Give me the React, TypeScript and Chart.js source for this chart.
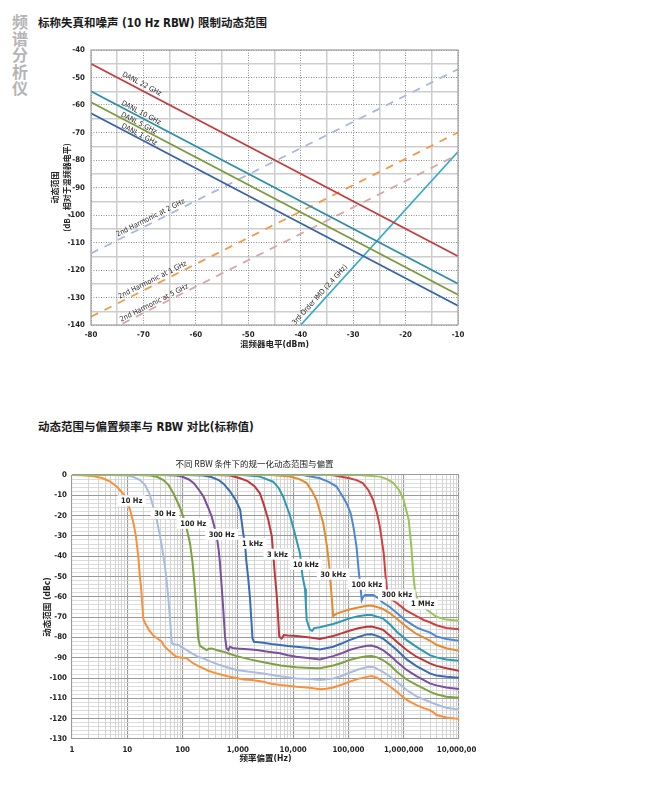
import React, { useEffect, useRef } from "react";
import { Chart, registerables } from "chart.js";

Chart.register(...registerables);

const NARROW =
  "'Liberation Sans Narrow', 'DejaVu Sans Condensed', 'Roboto Condensed', 'Liberation Sans', 'Noto Sans CJK SC', sans-serif";
const CJK = "'Noto Sans CJK SC', 'Noto Sans', sans-serif";

// ---------------- Chart 1: distortion / noise limited dynamic range ----------------
const mixerLevelTickValues = [-80, -70, -60, -50, -40, -30, -20, -10];
const dynamicRangeTickValues = [-40, -50, -60, -70, -80, -90, -100, -110, -120, -130, -140];

const danlMixerLevels = [-80, -10];
const danl22GHz = [-45, -115];
const danl10GHz = [-55, -125];
const danl5GHz = [-59, -129];
const danl1GHz = [-63, -133];
const harmonic2GHzLevels = [-80, -10];
const harmonic2GHz = [-114, -47];
const harmonic1GHzLevels = [-80, -10];
const harmonic1GHz = [-137, -70];
const harmonic5GHzLevels = [-74, -10];
const harmonic5GHz = [-139.5, -78];
const imd3Levels = [-40, -10];
const imd3 = [-140, -77];

// ---------------- Chart 2: dynamic range vs offset vs RBW ----------------
const offsetTickValues = [1, 10, 100, 1000, 10000, 100000, 1000000, 10000000];
const offsetTickLabels = ["1", "10", "100", "1,000", "10,000", "100,000", "1,000,000", "10,000,000"];
const dbcTickValues = [0, -10, -20, -30, -40, -50, -60, -70, -80, -90, -100, -110, -120, -130];

const rbwNames = ["10 Hz", "30 Hz", "100 Hz", "300 Hz", "1 kHz", "3 kHz", "10 kHz", "30 kHz", "100 kHz", "300 kHz", "1 MHz"];

const rbw10Hz: [number, number][] = [
  [1, 0], [1.5, -0.1], [2.5, -0.6], [3.5, -1.5], [4.9, -3.3], [6.5, -5.8], [8.8, -9.9], [11.2, -17], [13, -24],
  [14.3, -30], [15.8, -40], [16.9, -50], [17.7, -55], [18.6, -63], [19.5, -71], [21, -73], [25, -76.5], [29.5, -79],
  [35, -80.5], [41.7, -82], [46, -84], [51.5, -85.4], [60, -87], [70, -88.6], [78, -89.5], [95, -90], [119, -90.3],
  [135, -91.5], [157, -92.8], [190, -94], [238, -95.2], [300, -96.5], [414, -97.7], [550, -98.6], [722, -99.4],
  [900, -99.8], [1270, -100.7], [1800, -101], [2900, -101.8], [4000, -102.8], [5800, -103.4], [8000, -103.8],
  [11500, -104.3], [20000, -104.8], [30500, -105.5], [40000, -105.3], [53000, -104.6], [75000, -103.3],
  [104000, -101.8], [150000, -100.4], [214000, -99.4], [263000, -99], [330000, -99.8], [420000, -101.8],
  [560000, -104], [750000, -106.7], [1130000, -110.8], [1700000, -113.3], [2300000, -114.8], [2970000, -115.8],
  [3500000, -117], [3900000, -118.2], [5900000, -119.4], [8500000, -119.9], [10000000, -120],
];
const rbw30Hz: [number, number][] = [
  [1, 0], [5, 0], [9.8, -0.3], [13, -1], [17, -2.5], [21, -5], [25, -9], [29.5, -15.6], [34, -22], [39, -30],
  [44, -38], [48, -45], [51.5, -52], [55, -60], [59, -70], [63, -81.3], [65, -83], [70, -83.3], [84, -83.7],
  [100, -85], [119, -86.2], [150, -88], [190, -89.5], [238, -90.3], [330, -92], [475, -93.6], [700, -95],
  [950, -96], [1500, -96.8], [2900, -97.7], [5000, -98.8], [11500, -100.2], [20000, -100.5], [30500, -101],
  [53000, -100.2], [75000, -99], [104000, -97.4], [150000, -95.8], [230000, -94.4], [290000, -94.6],
  [420000, -96.9], [560000, -99.2], [750000, -101.8], [1130000, -105.9], [1700000, -109], [2300000, -110.5],
  [3000000, -111.8], [3900000, -113], [5900000, -114.6], [8500000, -115.2], [10000000, -115.4],
];
const rbw100Hz: [number, number][] = [
  [1, 0], [15, 0], [26, -0.3], [35, -1], [45, -2.5], [56, -5], [68, -9], [85, -14.5], [103, -20.5], [120, -27],
  [136, -33.6], [150, -42], [160, -50], [167, -56], [180, -68], [192, -80.5], [205, -84], [220, -84.6],
  [273, -86.2], [300, -85.6], [337, -85.4], [420, -86.3], [545, -87], [700, -88], [950, -89.2], [1650, -90.8],
  [2500, -91.8], [3800, -92.8], [6000, -93.8], [11500, -94.7], [20000, -95], [30500, -95.2], [53000, -93.8],
  [75000, -92.6], [104000, -91.1], [150000, -90], [214000, -89.2], [263000, -89.1], [330000, -89.8],
  [420000, -91.1], [560000, -93.5], [750000, -96.9], [1130000, -100.7], [1700000, -103.4], [2970000, -106.7],
  [3900000, -108], [5900000, -109.2], [10000000, -109.7],
];
const rbw300Hz: [number, number][] = [
  [1, 0], [40, 0], [78, -0.3], [100, -0.9], [130, -2.2], [160, -4], [200, -7.5], [238, -10.5], [290, -16],
  [337, -20.5], [380, -26], [414, -30], [450, -37], [475, -43.5], [510, -55], [550, -68], [585, -79.6],
  [625, -85.4], [670, -86.2], [720, -84.6], [800, -85.2], [950, -85.4], [1500, -85.8], [2200, -86.2],
  [3500, -87], [5800, -87.8], [8000, -88.8], [11500, -89.5], [20000, -90.2], [30500, -90.8], [53000, -89.2],
  [75000, -87.8], [104000, -86.2], [150000, -85], [214000, -84.1], [263000, -84], [330000, -84.8],
  [420000, -86.2], [560000, -88.8], [750000, -92], [1130000, -96], [1700000, -99], [2970000, -102.6],
  [3900000, -103.6], [5900000, -104.6], [10000000, -105.4],
];
const rbw1kHz: [number, number][] = [
  [1, 0], [120, 0], [235, -0.3], [330, -1], [450, -2.5], [560, -4.5], [720, -8], [900, -12], [1100, -17],
  [1250, -28.7], [1350, -34], [1420, -42], [1530, -50], [1650, -60], [1760, -72], [1840, -80.5], [1950, -82.1],
  [2900, -82.6], [4000, -83.2], [5800, -83.7], [8000, -84.2], [11500, -84.6], [20000, -85.2], [30500, -85.9],
  [53000, -84.6], [75000, -83], [104000, -81.3], [150000, -79.8], [214000, -78.5], [263000, -78.4],
  [330000, -79.2], [420000, -80.5], [560000, -83.2], [750000, -86.2], [1130000, -90.8], [1700000, -94.1],
  [2970000, -97.7], [3900000, -98.7], [5900000, -99.4], [10000000, -99.8],
];
const rbw3kHz: [number, number][] = [
  [1, 0], [400, 0], [720, -0.3], [1100, -1.6], [1500, -3], [2000, -5.5], [2500, -9], [2900, -14], [3550, -22],
  [4100, -30], [4350, -38.6], [4700, -50], [5000, -58], [5300, -68], [5600, -79.6], [6200, -80.5],
  [6800, -78.8], [8000, -79], [11500, -79.3], [20000, -80], [30500, -80.8], [53000, -79.3], [75000, -78],
  [104000, -76.7], [150000, -75.5], [214000, -74.7], [263000, -74.6], [330000, -75.3], [420000, -76.2],
  [560000, -79], [750000, -82.1], [1130000, -86.2], [1700000, -89.5], [2970000, -92.8], [3900000, -94],
  [5900000, -95.2], [10000000, -96.4],
];
const rbw10kHz: [number, number][] = [
  [1, 0], [1200, 0], [2500, -0.8], [4350, -3.3], [5500, -6.5], [6600, -10.7], [8700, -19.7], [10700, -28.7],
  [13300, -38.6], [14800, -50], [16400, -56], [17000, -64], [17600, -71.4], [20000, -76], [22000, -76.8],
  [24000, -75.4], [30500, -75], [53000, -73.4], [75000, -72], [104000, -70.6], [150000, -69.6], [214000, -69],
  [263000, -69], [330000, -69.8], [420000, -70.6], [560000, -73.5], [750000, -77.2], [1130000, -81.3],
  [1700000, -84.6], [2970000, -88.7], [3900000, -89.8], [5900000, -90.8], [10000000, -91.5],
];
const rbw30kHz: [number, number][] = [
  [1, 0], [4000, 0], [8700, -0.7], [13000, -2], [17600, -4], [22000, -8], [26500, -12.3], [30500, -18],
  [35000, -23.8], [41000, -35.3], [45000, -45], [48000, -55], [50500, -62], [53000, -69.5], [60000, -68.4],
  [75000, -67.4], [104000, -66.2], [150000, -65.2], [214000, -64.4], [263000, -64.3], [330000, -65],
  [420000, -66], [560000, -68], [750000, -70.8], [1130000, -74.8], [1700000, -78.3], [2970000, -81.5],
  [3900000, -83.6], [5900000, -85.3], [10000000, -86.5],
];
const rbw100kHz: [number, number][] = [
  [1, 0], [15000, 0], [30500, -1.6], [45000, -3.5], [61000, -5.7], [80000, -11], [93000, -14], [110000, -19],
  [123000, -25.4], [140000, -35.3], [155000, -48.4], [165000, -55], [174000, -61.6], [185000, -60],
  [200000, -59.1], [280000, -59.1], [340000, -60.5], [420000, -62.8], [560000, -65], [750000, -68],
  [1130000, -72], [1700000, -75], [2300000, -76.5], [2970000, -77.5], [3900000, -79.5], [5900000, -80.8],
  [10000000, -81.6],
];
const rbw300kHz: [number, number][] = [
  [1, 0], [50000, 0], [104000, -1.6], [140000, -2.5], [182000, -4], [230000, -7.5], [280000, -12.3],
  [330000, -19], [370000, -25.4], [435000, -38.6], [470000, -50], [500000, -57], [530000, -60.5],
  [560000, -60.8], [750000, -63], [1080000, -66.5], [1700000, -69.5], [2300000, -71.4], [2970000, -72.5],
  [3900000, -74], [5900000, -75.3], [10000000, -76],
];
const rbw1MHz: [number, number][] = [
  [1, 0], [150000, 0], [370000, -0.8], [500000, -2], [650000, -4], [830000, -7.5], [1000000, -12.3],
  [1230000, -22], [1370000, -35], [1500000, -50], [1600000, -56.7], [1700000, -60], [2000000, -63.5],
  [2500000, -66], [3200000, -68.1], [3900000, -69.8], [5900000, -71.2], [10000000, -71.8],
];

const rbwSeries = [rbw10Hz, rbw30Hz, rbw100Hz, rbw300Hz, rbw1kHz, rbw3kHz, rbw10kHz, rbw30kHz, rbw100kHz, rbw300kHz, rbw1MHz];
const rbwColors = ["#F7923A", "#A8BCE0", "#7DA23E", "#7A4F9E", "#396CB3", "#BE383B", "#2E99B2", "#E68A2E", "#4C88D2", "#D0413F", "#9BC457"];
// label anchor (offset Hz, dBc) for each RBW tag
const rbwLabelOffsets = [12, 48, 156, 510, 1840, 5200, 17000, 53000, 215000, 750000, 2200000];
const rbwLabelLevels = [-12.7, -18.9, -23.8, -29.2, -33.6, -39, -44, -48.9, -53.8, -59.1, -63.5];

const pts = (xs: number[], ys: number[]) => xs.map((x, i) => ({ x, y: ys[i] }));

const chart1Series = [
  { label: "DANL 22 GHz", data: pts(danlMixerLevels, danl22GHz), color: "#C1403F", dash: [] as number[], off: 5.5 },
  { label: "DANL 10 GHz", data: pts(danlMixerLevels, danl10GHz), color: "#2E8FA7", dash: [] as number[], off: 4 },
  { label: "DANL 5 GHz", data: pts(danlMixerLevels, danl5GHz), color: "#7B9B3B", dash: [] as number[], off: 3.5 },
  { label: "DANL 1 GHz", data: pts(danlMixerLevels, danl1GHz), color: "#3963A8", dash: [] as number[], off: 3.5 },
  { label: "2nd Harmonic at 2 GHz", data: pts(harmonic2GHzLevels, harmonic2GHz), color: "#A9B9DC", dash: [8, 7], off: 5 },
  { label: "2nd Harmonic at 1 GHz", data: pts(harmonic1GHzLevels, harmonic1GHz), color: "#F39A49", dash: [8, 7], off: 5 },
  { label: "2nd Harmonic at 5 GHz", data: pts(harmonic5GHzLevels, harmonic5GHz), color: "#DBA6A6", dash: [8, 7], off: 4 },
  { label: "3rd Order IMD (2.4 GHz)", data: pts(imd3Levels, imd3), color: "#3AACC8", dash: [] as number[], off: 6 },
];
const chart1LabelAt = [-70.8, -70.8, -71.2, -71.1, -68.2, -67.8, -67.6, -35.5];

const isMult = (c: any, m: number) => c && c.tick && Math.abs(c.tick.value % m) < 1e-6;

const lineLabelPlugin = {
  id: "lineLabels",
  afterDatasetsDraw(chart: any) {
    const { ctx } = chart;
    const xs = chart.scales.x;
    const ys = chart.scales.y;
    ctx.save();
    ctx.font = `7.2px ${NARROW}`;
    ctx.fillStyle = "#2a2a2a";
    ctx.textAlign = "center";
    ctx.textBaseline = "middle";
    chart1Series.forEach((s, i) => {
      const p0 = s.data[0];
      const p1 = s.data[s.data.length - 1];
      const xv = chart1LabelAt[i];
      const yv = p0.y + ((p1.y - p0.y) * (xv - p0.x)) / (p1.x - p0.x);
      const px = xs.getPixelForValue(xv);
      const py = ys.getPixelForValue(yv);
      const ang = Math.atan2(
        ys.getPixelForValue(p1.y) - ys.getPixelForValue(p0.y),
        xs.getPixelForValue(p1.x) - xs.getPixelForValue(p0.x)
      );
      ctx.save();
      ctx.translate(px + Math.sin(ang) * s.off, py - Math.cos(ang) * s.off);
      ctx.rotate(ang);
      ctx.fillText(s.label, 0, 0);
      ctx.restore();
    });
    ctx.restore();
  },
};

const frame1Plugin = {
  id: "frame1",
  afterDraw(chart: any) {
    const { ctx, chartArea: a } = chart;
    ctx.save();
    ctx.strokeStyle = "#9e9e9e";
    ctx.lineWidth = 1.2;
    ctx.strokeRect(a.left, a.top, a.right - a.left, a.bottom - a.top);
    ctx.restore();
  },
};

const rbwLabelPlugin = {
  id: "rbwLabels",
  afterDatasetsDraw(chart: any) {
    const { ctx, chartArea: a } = chart;
    const xs = chart.scales.x;
    const ys = chart.scales.y;
    ctx.save();
    ctx.font = `bold 7.5px ${NARROW}`;
    ctx.textAlign = "center";
    ctx.textBaseline = "middle";
    rbwNames.forEach((name, i) => {
      const px = xs.getPixelForValue(rbwLabelOffsets[i]);
      const py = ys.getPixelForValue(rbwLabelLevels[i]);
      const w = ctx.measureText(name).width + 7;
      ctx.fillStyle = "#ffffff";
      ctx.fillRect(px - w / 2, py - 5.5, w, 11);
      ctx.fillStyle = "#1e1e1e";
      ctx.fillText(name, px, py + 0.5);
    });
    ctx.font = `8.5px ${CJK}`;
    ctx.fillStyle = "#222";
    ctx.fillText("不同 RBW 条件下的规一化动态范围与偏置", (a.left + a.right) / 2 - 11, a.top - 11);
    ctx.restore();
  },
};

export default function App() {
  const c1 = useRef<HTMLCanvasElement>(null);
  const c2 = useRef<HTMLCanvasElement>(null);

  useEffect(() => {
    const tickFont = { family: NARROW, size: 7.8, weight: "bold" as const };
    const ch1 = new Chart(c1.current as HTMLCanvasElement, {
      type: "line",
      data: {
        datasets: chart1Series.map((s) => ({
          label: s.label,
          data: s.data,
          borderColor: s.color,
          borderWidth: 1.8,
          borderDash: s.dash,
          pointRadius: 0,
          fill: false,
        })),
      },
      options: {
        animation: false,
        responsive: true,
        maintainAspectRatio: false,
        events: [],
        layout: { padding: { left: 0, top: 20, right: 22, bottom: 0 } },
        plugins: { legend: { display: false }, tooltip: { enabled: false }, title: { display: false } },
        scales: {
          x: {
            type: "linear",
            min: -80,
            max: -10,
            ticks: {
              stepSize: 5,
              autoSkip: false,
              maxRotation: 0,
              padding: 5,
              font: tickFont,
              color: "#222",
              callback: (v: any) => (mixerLevelTickValues.includes(Number(v)) ? String(v) : ""),
            },
            grid: {
              drawTicks: false,
              color: (c: any) => (isMult(c, 10) ? "#8e8e8e" : "#cdcdcd"),
              lineWidth: (c: any) => (isMult(c, 10) ? 1 : 1.5),
            },
            border: { display: false, dash: (c: any) => (isMult(c, 10) ? [1, 1.5] : []) },
            title: {
              display: true,
              text: "混频器电平(dBm)",
              color: "#222",
              font: { family: NARROW, size: 8.5, weight: "bold", lineHeight: 1.2 },
              padding: { top: 0, bottom: 9.9 },
            },
            afterFit: (s: any) => {
              s.height = 35;
              s.paddingLeft = 0;
              s.paddingRight = 0;
            },
          } as any,
          y: {
            type: "linear",
            min: -140,
            max: -40,
            ticks: {
              stepSize: 5,
              autoSkip: false,
              padding: 6,
              font: tickFont,
              color: "#222",
              callback: (v: any) => (dynamicRangeTickValues.includes(Number(v)) ? String(v) : ""),
            },
            grid: {
              drawTicks: false,
              color: (c: any) => (isMult(c, 10) ? "#8e8e8e" : "#cdcdcd"),
              lineWidth: (c: any) => (isMult(c, 10) ? 1 : 1.5),
            },
            border: { display: false, dash: (c: any) => (isMult(c, 10) ? [1, 1.5] : []) },
            title: {
              display: true,
              text: ["动态范围", "(dB，相对于混频器电平)"],
              color: "#222",
              font: { family: CJK, size: 8, weight: "bold", lineHeight: 1.5 },
              padding: { top: 49, bottom: 0 },
            },
            afterFit: (s: any) => {
              s.width = 91;
              s.paddingTop = 0;
              s.paddingBottom = 0;
            },
          } as any,
        },
      },
      plugins: [frame1Plugin, lineLabelPlugin],
    });

    const ch2 = new Chart(c2.current as HTMLCanvasElement, {
      type: "line",
      data: {
        datasets: rbwSeries.map((s, i) => ({
          label: rbwNames[i],
          data: s.map(([x, y]) => ({ x, y })),
          borderColor: rbwColors[i],
          borderWidth: 2,
          pointRadius: 0,
          fill: false,
          order: rbwSeries.length - i,
        })),
      },
      options: {
        animation: false,
        responsive: true,
        maintainAspectRatio: false,
        events: [],
        layout: { padding: { left: 0, top: 35, right: 17, bottom: 0 } },
        plugins: { legend: { display: false }, tooltip: { enabled: false }, title: { display: false } },
        scales: {
          x: {
            type: "logarithmic",
            min: 1,
            max: 10000000,
            afterBuildTicks: (s: any) => {
              const t: { value: number }[] = [];
              for (let e = 0; e < 7; e++) for (let m = 1; m < 10; m++) t.push({ value: m * Math.pow(10, e) });
              t.push({ value: 10000000 });
              s.ticks = t;
            },
            ticks: {
              autoSkip: false,
              maxRotation: 0,
              padding: 6,
              font: tickFont,
              color: "#222",
              callback: (v: any) => {
                const i = offsetTickValues.indexOf(Number(v));
                return i >= 0 ? offsetTickLabels[i] : "";
              },
            },
            grid: {
              drawTicks: false,
              color: (c: any) => (c.tick && offsetTickValues.includes(c.tick.value) ? "#9a9a9a" : "#d0d0d0"),
              lineWidth: (c: any) => (c.tick && offsetTickValues.includes(c.tick.value) ? 1.1 : 0.9),
            },
            border: { display: false },
            title: {
              display: true,
              text: "频率偏置(Hz)",
              color: "#222",
              font: { family: NARROW, size: 8.5, weight: "bold", lineHeight: 1.2 },
              padding: { top: 0, bottom: 15.9 },
            },
            afterFit: (s: any) => {
              s.height = 41;
              s.paddingLeft = 0;
              s.paddingRight = 0;
            },
          } as any,
          y: {
            type: "linear",
            min: -130,
            max: 0,
            ticks: {
              stepSize: 2,
              autoSkip: false,
              padding: 5,
              font: tickFont,
              color: "#222",
              callback: (v: any) => (dbcTickValues.includes(Number(v)) ? String(v) : ""),
            },
            grid: {
              drawTicks: false,
              color: (c: any) => (isMult(c, 10) ? "#9a9a9a" : "#d3d3d3"),
              lineWidth: (c: any) => (isMult(c, 10) ? 1.1 : 0.8),
            },
            border: { display: false },
            title: {
              display: true,
              text: "动态范围 (dBc)",
              color: "#222",
              font: { family: NARROW, size: 8.5, weight: "bold", lineHeight: 1.2 },
              padding: { top: 42.9, bottom: 0 },
            },
            afterFit: (s: any) => {
              s.width = 72;
              s.paddingTop = 0;
              s.paddingBottom = 0;
            },
          } as any,
        },
      },
      plugins: [rbwLabelPlugin],
    });

    return () => {
      ch1.destroy();
      ch2.destroy();
    };
  }, []);

  const sideChars = ["频", "谱", "分", "析", "仪"];

  return (
    <div
      style={{
        position: "absolute",
        left: 0,
        top: 0,
        width: 671,
        height: 797,
        background: "#ffffff",
        overflow: "hidden",
        fontFamily: CJK,
      }}
    >
      <div
        style={{
          position: "absolute",
          left: 11,
          top: 13,
          width: 18,
          color: "#b5b5b5",
          fontWeight: 700,
          fontSize: 16,
          lineHeight: "16.6px",
          textAlign: "center",
        }}
      >
        {sideChars.map((ch) => (
          <div key={ch}>{ch}</div>
        ))}
      </div>
      <div
        style={{
          position: "absolute",
          left: 38,
          top: 16.5,
          fontSize: 11.5,
          lineHeight: "12px",
          fontWeight: 700,
          fontFamily: NARROW,
          color: "#1a1a1a",
          whiteSpace: "nowrap",
        }}
      >
        标称失真和噪声 (10 Hz RBW) 限制动态范围
      </div>
      <div style={{ position: "absolute", left: 0, top: 30, width: 480, height: 330 }}>
        <canvas ref={c1} />
      </div>
      <div
        style={{
          position: "absolute",
          left: 38,
          top: 421,
          fontSize: 11.5,
          lineHeight: "12px",
          fontWeight: 700,
          fontFamily: NARROW,
          color: "#1a1a1a",
          whiteSpace: "nowrap",
        }}
      >
        动态范围与偏置频率与 RBW 对比(标称值)
      </div>
      <div style={{ position: "absolute", left: 0, top: 440, width: 476, height: 340 }}>
        <canvas ref={c2} />
      </div>
    </div>
  );
}
